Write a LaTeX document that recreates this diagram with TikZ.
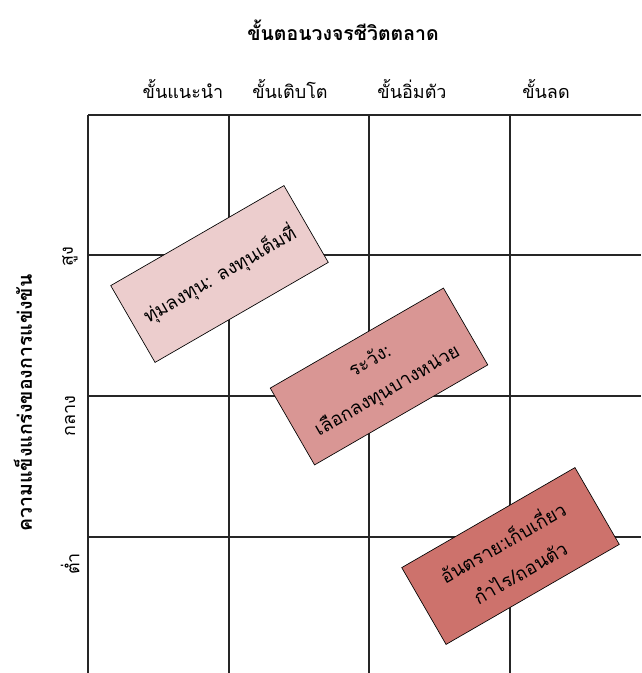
\documentclass[tikz,border=0pt]{standalone}
\usepackage{fontspec}
\setmainfont[Script=Thai]{Loma}
\begin{document}
\begin{tikzpicture}[x=0.75pt,y=-0.75pt,
  gridline/.style={line width=0.8pt,black!85},
  heading/.style={font=\bfseries\fontsize{14.6}{17}\selectfont,inner sep=0pt},
  stagelabel/.style={font=\fontsize{13.5}{16}\selectfont,anchor=center,inner sep=0pt},
  levellabel/.style={font=\fontsize{13.5}{16}\selectfont,rotate=90,anchor=center,inner sep=0pt},
  advice/.style={draw=black,line width=0.5pt,rotate=30,minimum width=150pt,minimum height=66.5pt,
    align=center,inner sep=2pt,font=\fontsize{14}{26}\selectfont}]
  \useasboundingbox (0,0) rectangle (641,673);

  % titles
  \node[heading] (title) at (343,30) {ขั้นตอนวงจรชีวิตตลาด};
  \node[heading,rotate=90] (ytitle) at (23,403) {ความแข็งแกร่งของการแข่งขัน};

  % stage headings
  \node[stagelabel] (s1) at (183,89) {ขั้นแนะนำ};
  \node[stagelabel] (s2) at (290,89) {ขั้นเติบโต};
  \node[stagelabel] (s3) at (412,89) {ขั้นอิ่มตัว};
  \node[stagelabel] (s4) at (546,89) {ขั้นลด};

  % competition levels
  \node[levellabel] (l1) at (70,257) {สูง};
  \node[levellabel] (l2) at (70,416) {กลาง};
  \node[levellabel] (l3) at (70,564) {ต่ำ};

  % grid
  \foreach \x in {88,229,369,510} \draw[gridline] (\x,115) -- (\x,673);
  \foreach \y in {115,255,396,537} \draw[gridline] (88,\y) -- (641,\y);

  % strategy boxes
  \node[advice,fill={rgb,255:red,236;green,205;blue,205}] (b1) at (219.5,274) {ทุ่มลงทุน: ลงทุนเต็มที่};
  \node[advice,fill={rgb,255:red,217;green,150;blue,148}] (b2) at (379,376.5) {ระวัง:\\เลือกลงทุนบางหน่วย};
  \node[advice,fill={rgb,255:red,205;green,114;blue,108}] (b3) at (510.5,556) {อันตราย:เก็บเกี่ยว\\กำไร/ถอนตัว};
\end{tikzpicture}
\end{document}
